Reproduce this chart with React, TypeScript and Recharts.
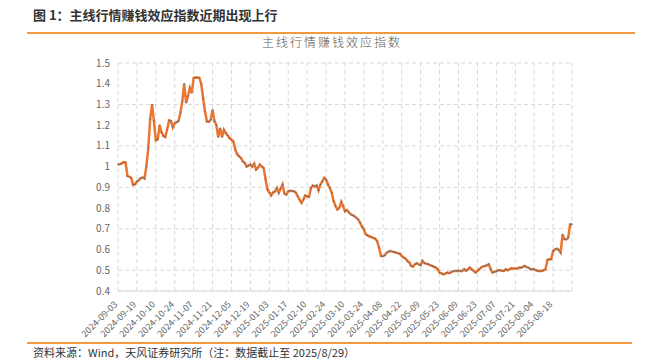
import { CartesianGrid, Line, LineChart, XAxis, YAxis } from "recharts";

// trading-day labels shown on the x axis, one every 10 sessions
const tickLabels = [
  "2024-09-03", "2024-09-19", "2024-10-10", "2024-10-24", "2024-11-07", "2024-11-21",
  "2024-12-05", "2024-12-19", "2025-01-03", "2025-01-17", "2025-02-10", "2025-02-24",
  "2025-03-10", "2025-03-24", "2025-04-08", "2025-04-22", "2025-05-09", "2025-05-23",
  "2025-06-09", "2025-06-23", "2025-07-07", "2025-07-21", "2025-08-04", "2025-08-18",
];

const yTicks = [0.4, 0.5, 0.6, 0.7, 0.8, 0.9, 1, 1.1, 1.2, 1.3, 1.4, 1.5];

// index value, one per trading day, 2024-09-03 .. 2025-08-29
const indexValues = [
  1.01, 1.012, 1.015, 1.022, 1.02, 0.955, 0.952, 0.945, 0.912, 0.915,
  0.928, 0.935, 0.945, 0.947, 0.942, 1.0, 1.09, 1.228, 1.3, 1.22,
  1.127, 1.131, 1.2, 1.165, 1.148, 1.143, 1.18, 1.223, 1.22, 1.19,
  1.21, 1.215, 1.22, 1.26, 1.316, 1.4, 1.308, 1.34, 1.38, 1.356,
  1.428, 1.43, 1.43, 1.428, 1.4, 1.33, 1.266, 1.218, 1.216, 1.226,
  1.274, 1.22, 1.2, 1.143, 1.186, 1.143, 1.178, 1.162, 1.15, 1.138,
  1.13, 1.122, 1.082, 1.06, 1.05, 1.042, 1.025, 1.018, 1.0, 1.005,
  1.01, 1.0, 1.014, 0.986, 0.995, 1.01, 1.0, 0.994, 0.94, 0.89,
  0.875, 0.861, 0.876, 0.88, 0.897, 0.874, 0.895, 0.914, 0.87, 0.865,
  0.881, 0.884, 0.882, 0.881, 0.875, 0.857, 0.84, 0.825, 0.841, 0.861,
  0.857, 0.854, 0.897, 0.909, 0.905, 0.909, 0.885, 0.914, 0.929, 0.946,
  0.937, 0.914, 0.897, 0.874, 0.833, 0.81, 0.793, 0.801, 0.83, 0.809,
  0.785, 0.79, 0.78, 0.77, 0.766, 0.761, 0.753, 0.745, 0.729, 0.71,
  0.697, 0.673, 0.668, 0.663, 0.66, 0.656, 0.652, 0.641, 0.609, 0.569,
  0.568, 0.572, 0.585, 0.59, 0.593, 0.59, 0.588, 0.585, 0.582, 0.58,
  0.569, 0.562, 0.556, 0.545, 0.537, 0.521, 0.518, 0.529, 0.534, 0.528,
  0.525, 0.545, 0.534, 0.532, 0.529, 0.525, 0.521, 0.517, 0.513, 0.505,
  0.489, 0.485, 0.48, 0.484, 0.489, 0.486, 0.49, 0.495, 0.497, 0.497,
  0.498, 0.497, 0.497, 0.505, 0.497, 0.505, 0.513, 0.505, 0.497, 0.489,
  0.497, 0.505, 0.513, 0.519, 0.521, 0.524, 0.529, 0.505, 0.489, 0.493,
  0.495, 0.5, 0.5, 0.498, 0.497, 0.505, 0.5, 0.505, 0.51, 0.508,
  0.508, 0.508, 0.513, 0.512, 0.516, 0.521, 0.515, 0.513, 0.505, 0.505,
  0.505, 0.5, 0.497, 0.497, 0.497, 0.5, 0.505, 0.55, 0.553, 0.553,
  0.593, 0.6, 0.604, 0.598, 0.585, 0.673, 0.65, 0.649, 0.657, 0.721,
  0.722,
];

const data = indexValues.map((v, i) => ({ i, v }));
const xTicks = Array.from({ length: tickLabels.length + 1 }, (_, k) => k * 10);

const FONT = "'Noto Sans CJK SC', 'Noto Sans', sans-serif";

interface TickProps {
  x?: number;
  y?: number;
  payload?: { value: number };
}

function DateTick({ x = 0, y = 0, payload }: TickProps) {
  const label = tickLabels[(payload?.value ?? 0) / 10];
  if (!label) return null;
  return (
    <text
      x={x}
      y={y + 6}
      transform={`rotate(-45, ${x}, ${y + 6})`}
      textAnchor="end"
      fontSize={9}
      fill="#666"
      fontFamily={FONT}
    >
      {label}
    </text>
  );
}

export default function App() {
  return (
    <div
      style={{
        position: "absolute",
        left: 0,
        top: 0,
        width: 659,
        height: 362,
        background: "#fff",
        fontFamily: FONT,
      }}
    >
      <div
        style={{
          position: "absolute",
          left: 33,
          top: 5,
          fontSize: 13,
          fontWeight: 700,
          color: "#333",
          whiteSpace: "nowrap",
        }}
      >
        图 1：主线行情赚钱效应指数近期出现上行
      </div>
      <div style={{ position: "absolute", left: 27, top: 32, width: 608, height: 2, background: "#F39A3E" }} />

      <LineChart
        width={659}
        height={362}
        data={data}
        margin={{ top: 63, right: 87, left: 78, bottom: 11 }}
        style={{ position: "absolute", left: 0, top: 0 }}
      >
        <CartesianGrid stroke="#d9d9d9" strokeDasharray="4 3" />
        <XAxis
          dataKey="i"
          type="number"
          domain={[0, 240]}
          ticks={xTicks}
          interval={0}
          height={60}
          tick={<DateTick />}
          tickLine={false}
          axisLine={{ stroke: "#d9d9d9" }}
        />
        <YAxis
          domain={[0.4, 1.5]}
          ticks={yTicks}
          width={40}
          tickLine={false}
          axisLine={false}
          tick={{ fontSize: 10, fill: "#666", fontFamily: FONT }}
          tickFormatter={(value: number) => `${Math.round(value * 10) / 10}`}
        />
        <Line
          type="linear"
          dataKey="v"
          stroke="#EA7631"
          strokeWidth={2.5}
          dot={{ r: 0.7, fill: "#5b6675", stroke: "none" }}
          isAnimationActive={false}
        />
      </LineChart>

      <div
        style={{
          position: "absolute",
          left: 0,
          top: 33,
          width: 664,
          textAlign: "center",
          fontSize: 12,
          letterSpacing: 2,
          color: "#595959",
          fontWeight: 300,
        }}
      >
        主线行情赚钱效应指数
      </div>

      <div style={{ position: "absolute", left: 27, top: 342, width: 605, height: 2, background: "#F39A3E" }} />
      <div
        style={{
          position: "absolute",
          left: 33,
          top: 344,
          fontSize: 11,
          color: "#333",
          whiteSpace: "nowrap",
        }}
      >
        资料来源：Wind，天风证券研究所（注：数据截止至 2025/8/29）
      </div>
    </div>
  );
}
